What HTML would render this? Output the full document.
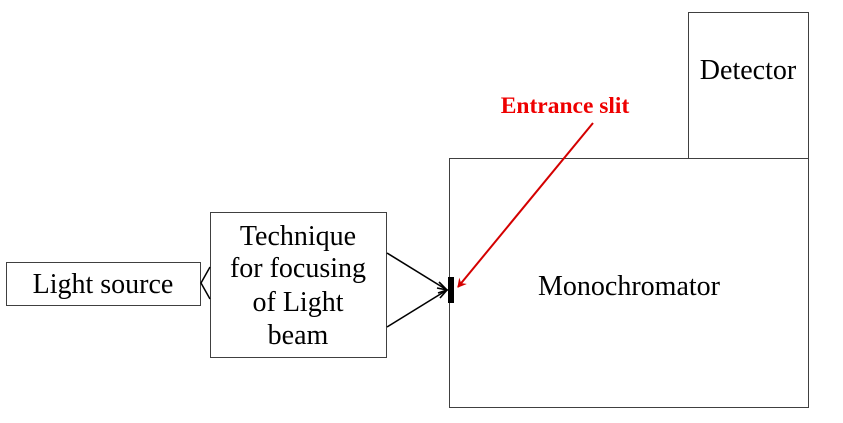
<!DOCTYPE html>
<html>
<head>
<meta charset="utf-8">
<style>
  html, body { margin: 0; padding: 0; background: #fff; }
  svg { display: block; }
  text { font-family: "Liberation Serif", "Times New Roman", serif; fill: #000; }
</style>
</head>
<body>
<svg width="843" height="423" viewBox="0 0 843 423" xmlns="http://www.w3.org/2000/svg">
  <defs>
    <marker id="redhead" markerWidth="10" markerHeight="10" refX="8" refY="5" orient="auto" markerUnits="userSpaceOnUse">
      <path d="M0,0 L9,5 L0,10 L3,5 Z" fill="#d40000"/>
    </marker>
  </defs>

  <!-- Boxes -->
  <rect x="6.5" y="262.5" width="194" height="43" fill="#fff" stroke="#404040" stroke-width="1"/>
  <rect x="210.5" y="212.5" width="176" height="145" fill="#fff" stroke="#404040" stroke-width="1"/>
  <rect x="688.5" y="12.5" width="120" height="146" fill="#fff" stroke="#404040" stroke-width="1"/>
  <rect x="449.5" y="158.5" width="359" height="249" fill="#fff" stroke="#404040" stroke-width="1"/>

  <!-- Connector between light source and technique box -->
  <polyline points="210,267 201,283 210,299" fill="none" stroke="#000" stroke-width="1.5"/>

  <!-- Focusing lines -->
  <line x1="387" y1="253" x2="447" y2="290" stroke="#000" stroke-width="1.6"/>
  <line x1="387" y1="327" x2="447" y2="290" stroke="#000" stroke-width="1.6"/>
  <polyline points="439,282 447,290 438,293" fill="none" stroke="#000" stroke-width="1.6"/>
  <polyline points="437,288 447,290 440,298" fill="none" stroke="#000" stroke-width="1.6"/>

  <!-- Slit -->
  <rect x="448" y="277" width="6" height="26" fill="#000"/>

  <!-- Red arrow -->
  <line x1="593" y1="123" x2="458" y2="287" stroke="#d40000" stroke-width="2" marker-end="url(#redhead)"/>

  <!-- Labels -->
  <text x="103" y="293" font-size="28" text-anchor="middle">Light source</text>
  <text x="298" y="245" font-size="28" text-anchor="middle">Technique</text>
  <text x="298" y="277" font-size="28" text-anchor="middle">for focusing</text>
  <text x="298" y="311" font-size="28" text-anchor="middle">of Light</text>
  <text x="298" y="344" font-size="28" text-anchor="middle">beam</text>
  <text x="629" y="295" font-size="28" text-anchor="middle">Monochromator</text>
  <text x="748" y="79" font-size="28" text-anchor="middle">Detector</text>
  <text x="565" y="113" font-size="23.5" font-weight="bold" text-anchor="middle" style="fill:#ee0000">Entrance slit</text>
</svg>
</body>
</html>
